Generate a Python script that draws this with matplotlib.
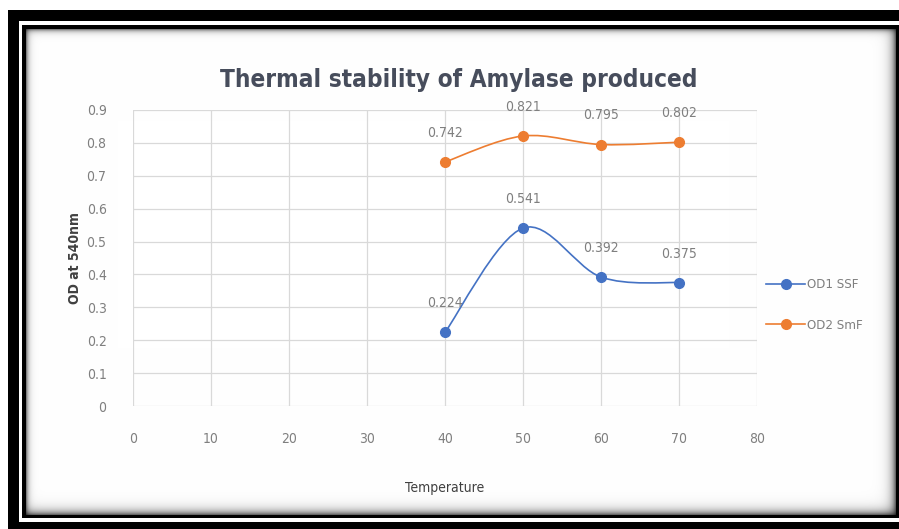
import numpy as np
import matplotlib
matplotlib.use('Agg')
import matplotlib.pyplot as plt
from matplotlib.path import Path
from matplotlib.patches import PathPatch
from matplotlib.lines import Line2D

# dados do grafico
temperatura = [40, 50, 60, 70]
od1_ssf = [0.224, 0.541, 0.392, 0.375]
od2_smf = [0.742, 0.821, 0.795, 0.802]
nomes = ['OD1 SSF', 'OD2 SmF']
cores = ['#4472C4', '#ED7D31']
x_ticks = [0, 10, 20, 30, 40, 50, 60, 70, 80]
y_ticks = [0, 0.1, 0.2, 0.3, 0.4, 0.5, 0.6, 0.7, 0.8, 0.9]

plt.rcParams['font.family'] = ['DejaVu Sans']
plt.rcParams['font.stretch'] = 'condensed'

W, H = 899, 529
fig = plt.figure(figsize=(W / 100, H / 100), dpi=100)

# moldura (borda preta dupla + sombra)
img = np.ones((H, W, 3))
yy, xx = np.mgrid[0:H, 0:W]
img[10:21, 8:W] = 0
img[522:H, 8:W] = 0
img[10:H, 8:19] = 0
img[25:518, 22:W] = 0
inner = (xx >= 26) & (xx < 896) & (yy >= 29) & (yy < 515)
dl = xx - 26
dt = yy - 29
dr = 895 - xx
db = 514 - yy
sombra = ((1 - 0.5 * np.exp(-dl / 2.5)) * (1 - 0.5 * np.exp(-dt / 2.5)) *
          (1 - 0.6 * np.exp(-dr / 4.5)) * (1 - 0.6 * np.exp(-db / 4.5)))
for c in range(3):
    canal = img[:, :, c]
    canal[inner] = sombra[inner]
fig.figimage(img, 0, 0, origin='upper', zorder=-5)

ax = fig.add_axes([133 / W, 1 - 406 / H, 624 / W, 296 / H])
ax.set_zorder(2)
ax.set_facecolor('none')
ax.set_xlim(0, 80)
ax.set_ylim(0, 0.9)
ax.set_xticks(x_ticks)
ax.set_yticks(y_ticks)
ax.set_yticklabels(['0' if v == 0 else f'{v:.1f}' for v in y_ticks])
ax.grid(True, color='#D9D9D9', linewidth=0.9)
ax.set_axisbelow(True)
for s in ax.spines.values():
    s.set_visible(False)
ax.tick_params(length=0, labelsize=10, labelcolor='#7F7F7F')
ax.tick_params(axis='y', pad=19)
ax.tick_params(axis='x', pad=19)


def curva_suave(xs, ys):
    # curva de Bezier no estilo "linha suavizada" do Excel
    pts = list(zip(xs, ys))
    verts = [pts[0]]
    codes = [Path.MOVETO]
    n = len(pts)
    for i in range(n - 1):
        p0 = pts[max(i - 1, 0)]
        p1 = pts[i]
        p2 = pts[i + 1]
        p3 = pts[min(i + 2, n - 1)]
        c1 = (p1[0] + (p2[0] - p0[0]) / 6, p1[1] + (p2[1] - p0[1]) / 6)
        c2 = (p2[0] - (p3[0] - p1[0]) / 6, p2[1] - (p3[1] - p1[1]) / 6)
        verts += [c1, c2, p2]
        codes += [Path.CURVE4] * 3
    return Path(verts, codes)


for ys, cor in zip([od1_ssf, od2_smf], cores):
    ax.add_patch(PathPatch(curva_suave(temperatura, ys), facecolor='none',
                           edgecolor=cor, linewidth=1.2, zorder=3))
    ax.plot(temperatura, ys, 'o', color=cor, markersize=7, zorder=4)
    for x, y in zip(temperatura, ys):
        ax.annotate(f'{y:.3f}', (x, y), xytext=(0, 21), textcoords='offset points',
                    ha='center', va='center', fontsize=10, color='#7F7F7F')

fig.text(459 / W, 1 - 80 / H, 'Thermal stability of Amylase produced',
         ha='center', va='center', fontsize=17.5, color='#474D5C', fontweight='bold')
fig.text(75 / W, 1 - 258 / H, 'OD at 540nm', rotation=90, ha='center', va='center',
         fontsize=10, color='#404040', fontweight='bold')
fig.text(445 / W, 1 - 488 / H, 'Temperature', ha='center', va='center',
         fontsize=10, color='#404040')

handles = [Line2D([], [], color=c, marker='o', markersize=7, linewidth=1.2) for c in cores]
leg = fig.legend(handles, nomes, loc='center left', bbox_to_anchor=(754 / W, 1 - 305 / H),
                 frameon=False, fontsize=9.5, labelspacing=2.1, handlelength=3.0,
                 handletextpad=0.1, labelcolor='#7F7F7F')

fig.savefig('out.png', dpi=100)
